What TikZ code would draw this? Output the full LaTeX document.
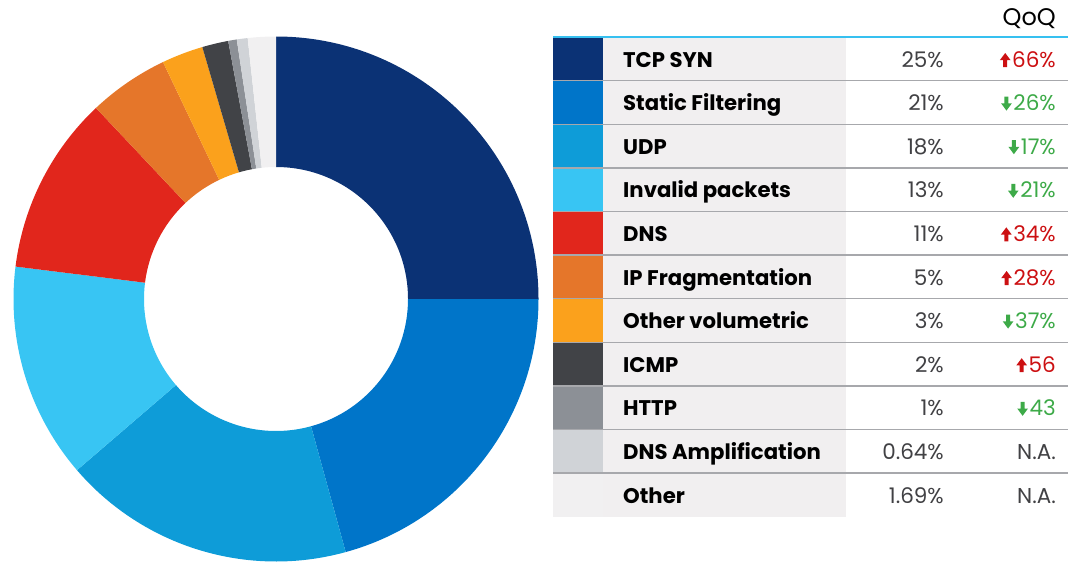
\documentclass[tikz,border=0pt]{standalone}
\usepackage{fontspec}
\setmainfont{Poppins}

% slice and swatch colours
\definecolor{cTCP}{HTML}{0B3275}
\definecolor{cStat}{HTML}{0075C9}
\definecolor{cUDP}{HTML}{0E9CD8}
\definecolor{cInv}{HTML}{38C5F3}
\definecolor{cDNS}{HTML}{E1261C}
\definecolor{cIP}{HTML}{E5762A}
\definecolor{cOV}{HTML}{FBA11C}
\definecolor{cICMP}{HTML}{414347}
\definecolor{cHTTP}{HTML}{8C9096}
\definecolor{cAmp}{HTML}{D0D3D7}
\definecolor{cOth}{HTML}{F1F0F1}
% table colours
\definecolor{colgrey}{HTML}{F1EFF0}
\definecolor{sepgrey}{HTML}{A7A8AC}
\definecolor{topblue}{HTML}{36C0F0}
\definecolor{qna}{HTML}{414144}
\definecolor{qup}{HTML}{CC1012}
\definecolor{qdn}{HTML}{3DAA48}

\tikzset{
  swatch/.style={anchor=north west, inner sep=0pt, outer sep=0pt,
    minimum width=49.5pt, minimum height=43.6pt},
  rowlabel/.style={anchor=base west, inner sep=0pt, font=\fontsize{21.2}{23}\selectfont\bfseries, text=black},
  rowpct/.style={anchor=base east, inner sep=0pt, font=\fontsize{21.5}{23}\selectfont, text=qna},
  rowqoq/.style={anchor=base east, inner sep=0pt, font=\fontsize{21.5}{23}\selectfont},
  sepline/.style={draw=sepgrey, line width=1.4pt},
  pics/arup/.style={code={\fill[qup] (-2,0) -- (-2,6.8) -- (-5.4,6.8) -- (0,14) -- (5.4,6.8) -- (2,6.8) -- (2,0) -- cycle;}},
  pics/ardn/.style={code={\fill[qdn] (0,0) -- (-5.4,7.3) -- (-2,7.3) -- (-2,14) -- (2,14) -- (2,7.3) -- (5.4,7.3) -- cycle;}},
  pics/arna/.style={code={}},
}

\begin{document}
\begin{tikzpicture}[x=1pt,y=1pt]
\useasboundingbox (0,0) rectangle (1075,-562);

% ---- donut chart ----
\def\Ro{262.5}
\def\Ri{132}
\begin{scope}[shift={(276,-299)}]
  \foreach \c/\a/\b in {cTCP/90/0, cStat/0/-74.6, cUDP/-74.6/-139.3,
      cInv/-139.3/-187.1, cDNS/-187.1/-226.7, cIP/-226.7/-244.5,
      cOV/-244.5/-253.7, cICMP/-253.7/-259.5, cHTTP/-259.5/-261.4,
      cAmp/-261.4/-263.8, cOth/-263.8/-270}
    \fill[\c] (\a:\Ro) arc[start angle=\a, end angle=\b, radius=\Ro]
      -- (\b:\Ri) arc[start angle=\b, end angle=\a, radius=\Ri] -- cycle;
\end{scope}

% ---- table ----
\fill[colgrey] (603,-37) rectangle (846,-516.6);
\node[anchor=base east, inner sep=0pt, font=\fontsize{24}{26}\selectfont, text=black] (hdr) at (1056,-25) {QoQ};

\foreach \i/\sw/\lab/\pct/\dir/\q in {
   1/cTCP/TCP SYN/25\%/up/66\%,
   2/cStat/Static Filtering/21\%/dn/26\%,
   3/cUDP/UDP/18\%/dn/17\%,
   4/cInv/Invalid packets/13\%/dn/21\%,
   5/cDNS/DNS/11\%/up/34\%,
   6/cIP/IP Fragmentation/5\%/up/28\%,
   7/cOV/Other volumetric/3\%/dn/37\%,
   8/cICMP/ICMP/2\%/up/56,
   9/cHTTP/HTTP/1\%/dn/43,
   10/cAmp/DNS Amplification/0.64\%/na/N.A.,
   11/cOth/Other/1.69\%/na/N.A.}
{
  \pgfmathsetmacro\yt{-37-(\i-1)*43.6}
  \pgfmathsetmacro\yb{\yt-30}
  \node[swatch, fill=\sw] (sw\i) at (553,\yt) {};
  \node[rowlabel] (lab\i) at (623,\yb) {\lab};
  \node[rowpct] (pct\i) at (944,\yb) {\pct};
  \node[rowqoq, text=q\dir] (qoq\i) at (1056,\yb) {\q};
  \path (qoq\i.base west) ++(-6.8,0) pic {ar\dir};
}

% row separators and top rule
\foreach \i in {1,...,10}
  \draw[sepline] (553,{-37-\i*43.6}) -- (1068,{-37-\i*43.6});
\draw[draw=topblue, line width=2.4pt] (553,-37) -- (1068,-37);

\end{tikzpicture}
\end{document}
